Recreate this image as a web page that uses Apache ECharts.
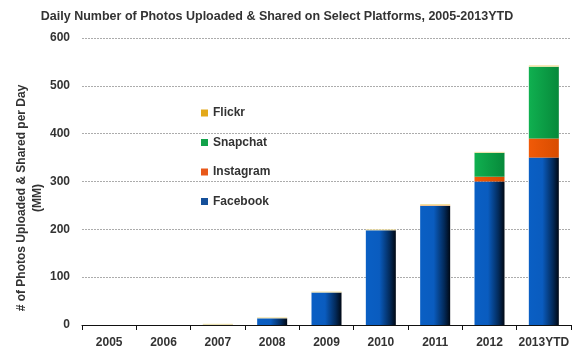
<!DOCTYPE html>
<html>
<head>
<meta charset="utf-8">
<script src="https://cdn.jsdelivr.net/npm/echarts@6/dist/echarts.min.js"></script>
<style>
  html, body { margin: 0; padding: 0; background: #fff; }
  #chart { width: 587px; height: 353px; }
</style>
</head>
<body>
<div id="chart"></div>
<script>
var years = ['2005', '2006', '2007', '2008', '2009', '2010', '2011', '2012', '2013YTD'];
var facebook = [0, 0, 0.5, 14, 68, 198, 249, 300, 350];
var instagram = [0, 0, 0, 0, 0, 0, 1, 10, 40];
var snapchat = [0, 0, 0, 0, 0, 0, 0, 50, 150];
var flickr = [0, 0, 2, 2, 2, 2, 3, 2, 3];
var yTicks = [0, 100, 200, 300, 400, 500, 600];

var font = 'Liberation Sans, Arial, Helvetica, sans-serif';

function hGrad(stops) {
  return new echarts.graphic.LinearGradient(0, 0, 1, 0, stops.map(function (s) {
    return { offset: s[0], color: s[1] };
  }));
}

var chart = echarts.init(document.getElementById('chart'));

function bar(name, data, color) {
  return {
    name: name,
    type: 'bar',
    stack: 'all',
    barWidth: 30,
    data: data,
    itemStyle: { color: color },
    emphasis: { disabled: true }
  };
}

chart.setOption({
  animation: false,
  textStyle: { fontFamily: font },
  title: {
    text: 'Daily Number of Photos Uploaded & Shared on Select Platforms, 2005-2013YTD',
    left: 272,
    textAlign: 'center',
    top: 5,
    textStyle: { fontSize: 12.5, fontWeight: 'bold', color: '#333', fontFamily: font }
  },
  legend: {
    orient: 'vertical',
    left: 196,
    top: 102,
    itemWidth: 7,
    itemHeight: 7,
    itemGap: 17.5,
    icon: 'rect',
    textStyle: { fontSize: 12, fontWeight: 'bold', color: '#333', fontFamily: font },
    data: [
      { name: 'Flickr', itemStyle: { color: '#e3a91a' } },
      { name: 'Snapchat', itemStyle: { color: '#12a24a' } },
      { name: 'Instagram', itemStyle: { color: '#e8581a' } },
      { name: 'Facebook', itemStyle: { color: '#15509a' } }
    ]
  },
  graphic: [{
    type: 'text',
    x: 30,
    y: 198,
    rotation: Math.PI / 2,
    style: {
      text: '# of Photos Uploaded & Shared per Day\n(MM)',
      font: 'bold 12px ' + font,
      fill: '#333',
      align: 'center',
      verticalAlign: 'middle',
      lineHeight: 16
    }
  }],
  grid: { left: 82, right: 16, top: 38, bottom: 28 },
  xAxis: {
    type: 'category',
    data: years,
    axisLine: { lineStyle: { color: '#111', width: 1 } },
    axisTick: { show: true, length: 5, lineStyle: { color: '#111' } },
    axisLabel: { interval: 0, fontSize: 12, fontWeight: 'bold', color: '#333', margin: 12, fontFamily: font }
  },
  yAxis: {
    type: 'value',
    min: yTicks[0],
    max: yTicks[yTicks.length - 1],
    interval: 100,
    axisLine: { show: false },
    axisTick: { show: false },
    axisLabel: { fontSize: 12, fontWeight: 'bold', color: '#333', margin: 12, fontFamily: font },
    splitLine: { lineStyle: { color: '#888', type: [2, 1], width: 0.7 } }
  },
  series: [
    bar('Facebook', facebook, hGrad([[0, '#0a5fc4'], [0.45, '#0a5cbf'], [0.8, '#032a5a'], [1, '#000814']])),
    bar('Instagram', instagram, hGrad([[0, '#f05a08'], [1, '#d84c00']])),
    bar('Snapchat', snapchat, hGrad([[0, '#10b050'], [1, '#07893a']])),
    bar('Flickr', flickr, '#f3e2a0')
  ]
});
</script>
</body>
</html>
